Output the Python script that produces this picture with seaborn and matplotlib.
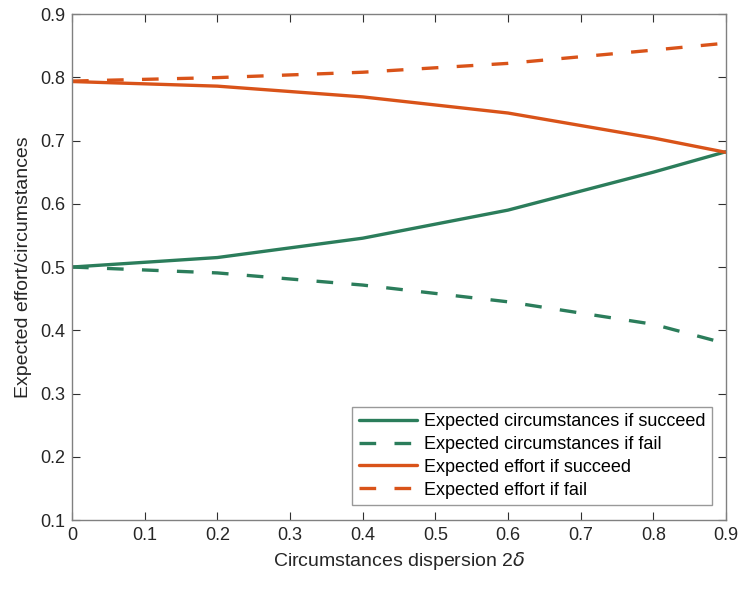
import matplotlib
matplotlib.use("Agg")
import matplotlib.pyplot as plt
import seaborn as sns
import pandas as pd

dispersion = [0.0, 0.2, 0.4, 0.6, 0.8, 0.9]
circ_succeed = [0.500, 0.515, 0.5456, 0.590, 0.650, 0.6824]
circ_fail = [0.500, 0.4907, 0.4715, 0.445, 0.4095, 0.379]
effort_succeed = [0.7933, 0.786, 0.769, 0.7435, 0.704, 0.6813]
effort_fail = [0.794, 0.7995, 0.808, 0.822, 0.843, 0.854]

labels = ["Expected circumstances if succeed", "Expected circumstances if fail",
          "Expected effort if succeed", "Expected effort if fail"]
series = [circ_succeed, circ_fail, effort_succeed, effort_fail]

sns.set_theme(style="white")
plt.rcParams['font.family'] = ['Liberation Sans', 'DejaVu Sans']

GREEN = "#2B7D5B"
ORANGE = "#D95319"
colors = [GREEN, GREEN, ORANGE, ORANGE]
dashed = [False, True, False, True]

fig = plt.figure(figsize=(7.4, 5.9), dpi=100)
ax = fig.add_axes([0.0973, 0.1186, 0.8838, 0.8576])

for lab, vals, c, d in zip(labels, series, colors, dashed):
    df = pd.DataFrame({"x": dispersion, "y": vals})
    sns.lineplot(data=df, x="x", y="y", ax=ax, color=c, linewidth=2.4,
                 label=lab, linestyle="--" if d else "-")
for line, d in zip(ax.get_lines(), dashed):
    if d:
        line.set_dashes((5, 5.5))

ax.set_xlim(0, 0.9)
ax.set_ylim(0.1, 0.9)
ax.set_xticks([0, 0.1, 0.2, 0.3, 0.4, 0.5, 0.6, 0.7, 0.8, 0.9])
ax.set_xticklabels(["0", "0.1", "0.2", "0.3", "0.4", "0.5", "0.6", "0.7", "0.8", "0.9"])
ax.set_yticks([0.1, 0.2, 0.3, 0.4, 0.5, 0.6, 0.7, 0.8, 0.9])
ax.set_yticklabels(["0.1", "0.2", "0.3", "0.4", "0.5", "0.6", "0.7", "0.8", "0.9"])

ax.set_xlabel("Circumstances dispersion 2$\\delta$", fontsize=14, color="#262626", labelpad=4)
ax.set_ylabel("Expected effort/circumstances", fontsize=14, color="#262626", labelpad=6)

for s in ax.spines.values():
    s.set_color("#808080")
    s.set_linewidth(1.0)
    s.set_visible(True)
ax.tick_params(direction="in", length=6, width=0.8, color="#303030", labelsize=13,
               labelcolor="#262626", top=True, right=True, bottom=True, left=True, pad=5)

leg = ax.legend(loc="lower right", bbox_to_anchor=(0.978, 0.03), fontsize=13,
                frameon=True, fancybox=False, handlelength=3.2, handletextpad=0.4,
                borderpad=0.35, labelspacing=0.32, borderaxespad=0)
leg.get_frame().set_edgecolor("#808080")
leg.get_frame().set_linewidth(1.0)
for t in leg.get_texts():
    t.set_color("#000000")

fig.savefig("out.png", dpi=100)
